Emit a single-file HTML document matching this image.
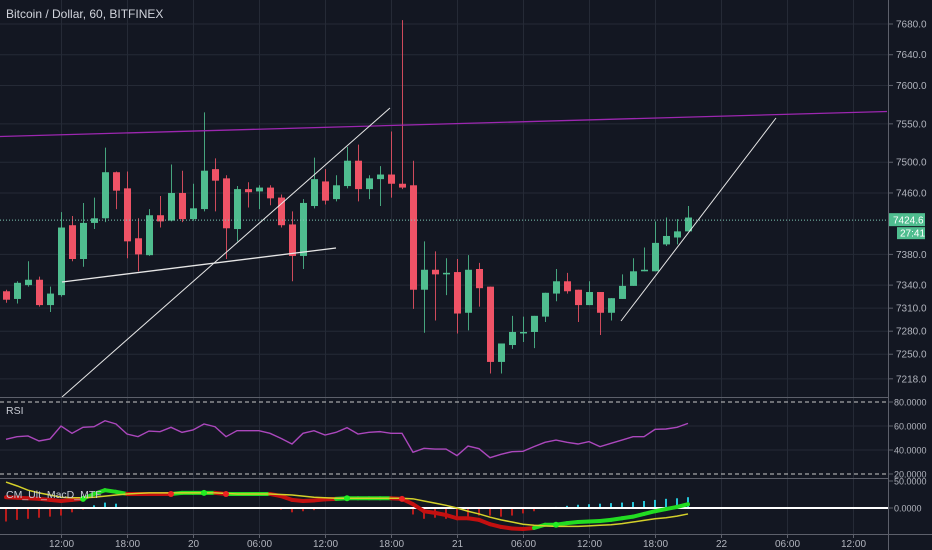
<!DOCTYPE html>
<html><head><meta charset="utf-8">
<style>
html,body{margin:0;padding:0;background:#131722;overflow:hidden}
svg{display:block;font-family:"Liberation Sans",sans-serif}
</style></head>
<body>
<svg id="chart" width="932" height="550" viewBox="0 0 932 550" xmlns="http://www.w3.org/2000/svg">
<rect x="0" y="0" width="932" height="550" fill="#131722"/>
<g id="grid"></g>
<g id="main"></g>
<g id="rsi"></g>
<g id="macd"></g>
<g id="axes"></g>
<text x="6" y="18" fill="#d1d4dc" font-size="12">Bitcoin / Dollar, 60, BITFINEX</text>
<text x="6" y="414" fill="#c9ccd4" font-size="10.5">RSI</text>
<text x="6" y="498" fill="#c9ccd4" font-size="10.5">CM_Ult_MacD_MTF</text>
</svg>
<script>
const opens  = [7332,7322,7340,7347,7314,7327,7418,7374,7421,7427,7487,7466,7401,7379,7431,7424,7460,7426,7439,7491,7479,7413,7465,7462,7467,7454,7419,7378,7443,7475,7452,7469,7502,7465,7478,7484,7472,7470,7334,7360,7354,7357,7304,7361,7338,7240,7262,7278,7279,7299,7329,7345,7334,7314,7331,7304,7322,7339,7358,7358,7393,7402,7410];
const highs  = [7334,7345,7371,7351,7338,7435,7430,7447,7454,7519,7488,7488,7427,7439,7456,7497,7489,7472,7565,7505,7483,7469,7474,7470,7470,7458,7436,7452,7506,7491,7483,7520,7523,7483,7495,7540,7685,7502,7397,7384,7375,7374,7379,7369,7338,7264,7300,7299,7300,7330,7361,7356,7334,7345,7331,7323,7354,7375,7389,7423,7428,7426,7443];
const lows   = [7317,7316,7338,7312,7305,7325,7371,7364,7413,7422,7439,7375,7358,7378,7415,7423,7422,7424,7436,7436,7374,7397,7441,7439,7444,7415,7345,7361,7440,7445,7449,7466,7449,7452,7443,7454,7465,7309,7278,7294,7327,7277,7281,7312,7225,7225,7257,7266,7258,7292,7319,7329,7292,7314,7275,7294,7322,7339,7358,7358,7391,7393,7410];
const closes = [7321,7343,7347,7314,7329,7415,7374,7421,7427,7487,7463,7397,7380,7431,7423,7460,7426,7440,7489,7476,7414,7465,7461,7467,7453,7418,7378,7447,7478,7450,7470,7502,7465,7479,7484,7472,7467,7334,7360,7354,7356,7303,7360,7336,7240,7264,7279,7279,7300,7330,7345,7332,7314,7331,7304,7323,7339,7358,7360,7395,7404,7410,7428];
const rsiValues = [48.9,51.1,51.7,47.5,49.2,60,53.9,58.9,59.4,64.4,61.7,53.3,51.1,55.8,55.3,58.9,54.7,56.7,61.7,59.4,51.1,56.1,56.1,56.1,53.9,49.7,45,53.9,56.1,52.5,54.7,58.6,53.3,54.7,55.3,53.9,53.9,38.1,41.4,40.8,40.8,35.3,43.3,41.1,33.6,36.4,38.6,38.9,42.8,46.4,48.3,46.4,45,47,42.8,45.6,48.3,51.1,51.1,57.2,57.5,58.9,62.2];
const macdValues = [20,19,18,17,15,13,15,17,26,33,30,26,26,26,26,26,28,28,28,28,26,26,26,26,26,22,15,13,14,16,17,18,18,18,18,18,17,7,-6,-9,-13,-19,-19,-22,-30,-35,-38,-39,-37,-31,-31,-28,-26,-25,-24,-22,-19,-16,-11,-6,-2,2,7];
const signalValues = [48,41,33,28,24,20,19,19,20,22,24,26,27,28,28,28,28,28,28,28,27,26,26,26,26,25,24,22,20,19,18,18,18,18,18,18,18,17,13,9,5,0,-6,-11,-17,-22,-26,-30,-32,-33,-34,-34,-34,-33,-32,-31,-29,-26,-23,-20,-18,-15,-11];
const histValues = [-25,-22,-20,-18,-16,-14,-8,-3,5,10,8,2,0,-1,0,0,0,0,0,0,0,0,0,0,0,-3,-8,-6,-4,-2,-1,0,0,0,0,0,0,-12,-20,-18,-20,-19,-16,-14,-14,-16,-14,-10,-6,-2,2,4,6,7,8,9,10,11,13,15,17,18,20];
const greenDots = [7,18,31,50];
const redDots = [15,20,36];
const priceTicks = [7680,7640,7600,7550,7500,7460,7380,7340,7310,7280,7250,7218];
const rsiTicks = [80,60,40,20];
const macdTicks = [50,0];
const timeLabels = ["12:00","18:00","20","06:00","12:00","18:00","21","06:00","12:00","18:00","22","06:00","12:00"];
const timeLabelIndex = [5,11,17,23,29,35,41,47,53,59,65,71,77];
const lastPrice = 7424.6;

const NS="http://www.w3.org/2000/svg";
function mk(tag, parent, attrs){const e=document.createElementNS(NS,tag);for(const k in attrs)e.setAttribute(k,attrs[k]);parent.appendChild(e);return e;}
const xOf = i => 6 + 11*i;
const yP = p => 24 + (7680-p)*0.768;
const yR = v => 402 + (80-v)*1.2;
const yM = v => 508 - v*0.54;
const PW = 888;

const grid=document.getElementById('grid');
timeLabelIndex.forEach((ti,k)=>{
  const l=mk('line',grid,{x1:xOf(ti)+0.5,x2:xOf(ti)+0.5,y1:0,y2:534,stroke:'#252a36','stroke-width':1});
  
  
});
priceTicks.forEach(p=>{
  const l=mk('line',grid,{x1:0,x2:PW,y1:yP(p),y2:yP(p),stroke:'#252a36','stroke-width':1});
  
  
});
[60,40].forEach(v=>{
  const l=mk('line',grid,{x1:0,x2:PW,y1:yR(v),y2:yR(v),stroke:'#252a36'});
  
  
});

const main=document.getElementById('main');
const drawings=[[0,136.5,887,111.5,'#9c27b0',1.3,'resistance-line'],[62,397,390,108,'#e6e6e6',1,'trend-line-1'],[62,282,336,248,'#e6e6e6',1.3,'support-line'],[621,321,776,118,'#e6e6e6',1,'trend-line-2']];
for(let i=0;i<opens.length;i++){
  const up=closes[i]>=opens[i];
  const col=up?'#4fbd8f':'#ef5366';
  const x=xOf(i);
  const w=mk('line',main,{x1:x+0.5,x2:x+0.5,y1:yP(highs[i]),y2:yP(lows[i]),stroke:col,'stroke-width':1,opacity:0.85});
  
  
  const top=yP(Math.max(opens[i],closes[i])),bot=yP(Math.min(opens[i],closes[i]));
  const b=mk('rect',main,{x:x-3,y:top,width:7,height:Math.max(1.5,bot-top),fill:col});
  
  
}
drawings.forEach(d=>{
  const l=mk('line',main,{x1:d[0],y1:d[1],x2:d[2],y2:d[3],stroke:d[4],'stroke-width':d[5]});
  
  
});
const pl=mk('line',main,{x1:0,x2:PW,y1:yP(lastPrice),y2:yP(lastPrice),stroke:'#7fc8b5','stroke-width':1,'stroke-dasharray':'1,2'});



const rsi=document.getElementById('rsi');
[80,20].forEach(v=>{
  const l=mk('line',rsi,{x1:0,x2:PW,y1:yR(v),y2:yR(v),stroke:'#c8c8c8','stroke-dasharray':'4,3'});
  
  
});
const rp=mk('polyline',rsi,{points:rsiValues.map((v,i)=>xOf(i)+','+yR(v)).join(' '),fill:'none',stroke:'#ab47bc','stroke-width':1.4});



const macd=document.getElementById('macd');
histValues.forEach((v,i)=>{
  const col=v>=0?'#26c6da':'#b71c1c';
  const r=mk('rect',macd,{x:xOf(i)-1,y:Math.min(yM(0),yM(v)),width:2,height:Math.abs(v*0.54),fill:col});
  
  
});
const zl=mk('line',macd,{x1:0,x2:PW,y1:yM(0),y2:yM(0),stroke:'#ffffff','stroke-width':2});


for(let i=1;i<macdValues.length;i++){
  const col=macdValues[i]>=signalValues[i]?'#22dd22':'#c41010';
  const s=mk('line',macd,{x1:xOf(i-1),y1:yM(macdValues[i-1]),x2:xOf(i),y2:yM(macdValues[i]),stroke:col,'stroke-width':4,'stroke-linecap':'round'});
  
  
}
const sg=mk('polyline',macd,{points:signalValues.map((v,i)=>xOf(i)+','+yM(v)).join(' '),fill:'none',stroke:'#d4d02a','stroke-width':1.5});


greenDots.forEach(i=>{
  const c=mk('circle',macd,{cx:xOf(i),cy:yM(macdValues[i]),r:3,fill:'#22ee22'});
  
  
});
redDots.forEach(i=>{
  const c=mk('circle',macd,{cx:xOf(i),cy:yM(macdValues[i]),r:3,fill:'#ee2222'});
  
  
});

const axes=document.getElementById('axes');
const a1=mk('rect',axes,{x:889,y:0,width:43,height:550,fill:'#131722'});


const a2=mk('rect',axes,{x:0,y:534,width:932,height:16,fill:'#131722'});


[[888.5,0,888.5,550],[0,534.5,932,534.5],[0,397.5,888,397.5],[0,478.5,888,478.5]].forEach(s=>{
  const l=mk('line',axes,{x1:s[0],y1:s[1],x2:s[2],y2:s[3],stroke:'#5d606b','stroke-width':1});
  
  
});
function tick(y,label,name,fs,tx){
  const l=mk('line',axes,{x1:889,x2:893,y1:y,y2:y,stroke:'#5d606b'});
  
  
  const t=mk('text',axes,{x:tx,y:y+3.5,fill:'#b2b5be','font-size':fs});
  t.textContent=label;
  
  
}
priceTicks.forEach(p=>tick(yP(p),p.toFixed(1),'price-axis',10,896));
rsiTicks.forEach(v=>tick(yR(v),v.toFixed(4),'rsi-axis',9,894));
macdTicks.forEach(v=>tick(yM(v),v.toFixed(4),'macd-axis',9,894));
timeLabels.forEach((s,k)=>{
  const x=xOf(timeLabelIndex[k]);
  const l=mk('line',axes,{x1:x+0.5,x2:x+0.5,y1:535,y2:538,stroke:'#5d606b'});
  
  
  const t=mk('text',axes,{x:x+0.5,y:547,fill:'#b2b5be','font-size':10,'text-anchor':'middle'});
  t.textContent=s;
  
  
});
const yl=yP(lastPrice);
const pb=mk('rect',axes,{x:889,y:yl-7,width:36,height:13,fill:'#4fbd8f'});


const pt=mk('text',axes,{x:893,y:yl+3.5,fill:'#ffffff','font-size':10});
pt.textContent=lastPrice.toFixed(1);


const cb=mk('rect',axes,{x:897,y:yl+7,width:28,height:12,fill:'#4fbd8f'});


const ct=mk('text',axes,{x:900,y:yl+16.5,fill:'#ffffff','font-size':10});
ct.textContent='27:41';


</script>
</body></html>
